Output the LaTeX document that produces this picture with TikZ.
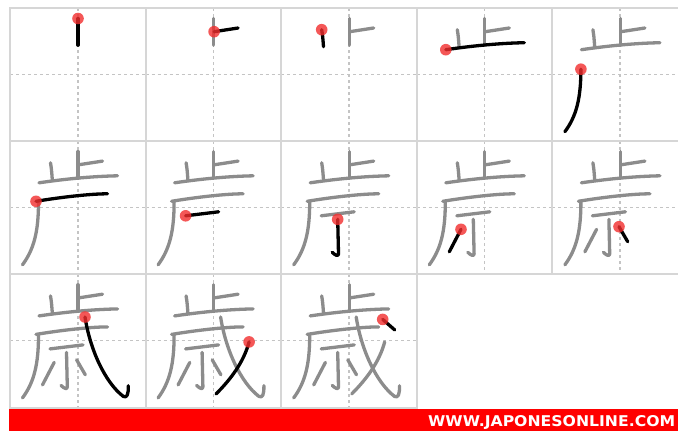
\documentclass[tikz,border=0pt]{standalone}
\usepackage{fontspec}
\usepackage{graphicx}
\newfontfamily\wmfont{DejaVu Sans}
\definecolor{gridc}{RGB}{214,214,214}
\definecolor{dashc}{RGB}{196,196,196}
\definecolor{donec}{RGB}{140,140,140}
\definecolor{dotc}{RGB}{242,45,45}
\newif\ifkcur
\newcommand\kpath[2]{\ifkcur\draw[curstroke] (#1) #2; \fill[dotmark] (#1) circle[radius=5.8];\else\draw[donestroke] (#1) #2;\fi}
\newcommand\kstroke[1]{\ifcase#1\or
  \kpath{68,10.3}{-- (68,37)}\or
  \kpath{68.5,23.5}{-- (92.5,19.8)}\or
  \kpath{40.5,21.5}{.. controls (41.5,28) .. (42.3,38.5)}\or
  \kpath{29,41.5}{.. controls (60,37) and (85,35) .. (107.5,34.5)}\or
  \kpath{28.5,61}{.. controls (28.5,90) and (24,108) .. (12.5,123.5)}\or
  \kpath{26,60}{.. controls (50,56) and (80,52.5) .. (97.5,52.5)}\or
  \kpath{40,74.5}{-- (73,70.5)}\or
  \kpath{56.5,78}{-- (57.3,112.5) .. controls (57.3,115.5) and (54,114) .. (51,111)}\or
  \kpath{44.2,88}{-- (32.5,110.5)}\or
  \kpath{66.6,85.4}{-- (75.3,100.4)}\or
  \kpath{75,42.6}{.. controls (80,75) and (95,108) .. (113.3,122) .. controls (117,124) and (118.5,120) .. (118.3,111.3)}\or
  \kpath{103.5,67.5}{.. controls (98,88) and (85,105) .. (70.5,119.5)}\or
  \kpath{101.5,45}{-- (113.5,55.5)}\fi}
\begin{document}
\begin{tikzpicture}[x=1pt,y=-1pt,
  gridline/.style={draw=gridc,line width=2pt},
  dashline/.style={draw=dashc,line width=1.5pt,dash pattern=on 3pt off 3pt},
  donestroke/.style={draw=donec,line width=3.3pt,line cap=round,line join=round},
  curstroke/.style={draw=black,line width=3.3pt,line cap=round,line join=round},
  dotmark/.style={fill=dotc,fill opacity=0.8}]
\fill[white] (0,0) rectangle (678,431);
\useasboundingbox (0,0) rectangle (678,431);
\clip (0,0) rectangle (678,431);
% cells
\foreach \n in {1,...,13}{
  \pgfmathtruncatemacro\cc{mod(\n-1,5)}
  \pgfmathtruncatemacro\rr{div(\n-1,5)}
  \begin{scope}[shift={(10+\cc*135.6,8.2+\rr*133.1)}]
    \draw[dashline] (67.8,0) -- (67.8,133.1);
    \draw[dashline] (0,66.2) -- (135.6,66.2);
  \end{scope}
}
% grid
\draw[gridline] (10,8.2) -- (678,8.2);
\draw[gridline] (10,141.3) -- (678,141.3);
\draw[gridline] (10,274.4) -- (678,274.4);
\draw[gridline] (10,407.5) -- (416.8,407.5);
\foreach \gx in {10,145.6,281.2,416.8}{\draw[gridline] (\gx,7.2) -- (\gx,408.5);}
\draw[gridline] (552.4,7.2) -- (552.4,275.4);
% strokes
\foreach \n in {1,...,13}{
  \pgfmathtruncatemacro\cc{mod(\n-1,5)}
  \pgfmathtruncatemacro\rr{div(\n-1,5)}
  \begin{scope}[shift={(10+\cc*135.6,8.2+\rr*133.1)}]
    \foreach \k in {1,...,\n}{%
      \ifnum\k<\n\relax\kcurfalse\else\kcurtrue\fi
      \kstroke{\k}}
  \end{scope}
}
% footer
\fill[red] (9,409) rectangle (678,431);
\node[text=white,inner sep=0pt,anchor=west] (wm) at (428,422.2)
  {\resizebox{247pt}{11pt}{\wmfont\bfseries WWW.JAPONESONLINE.COM}};
\end{tikzpicture}
\end{document}
